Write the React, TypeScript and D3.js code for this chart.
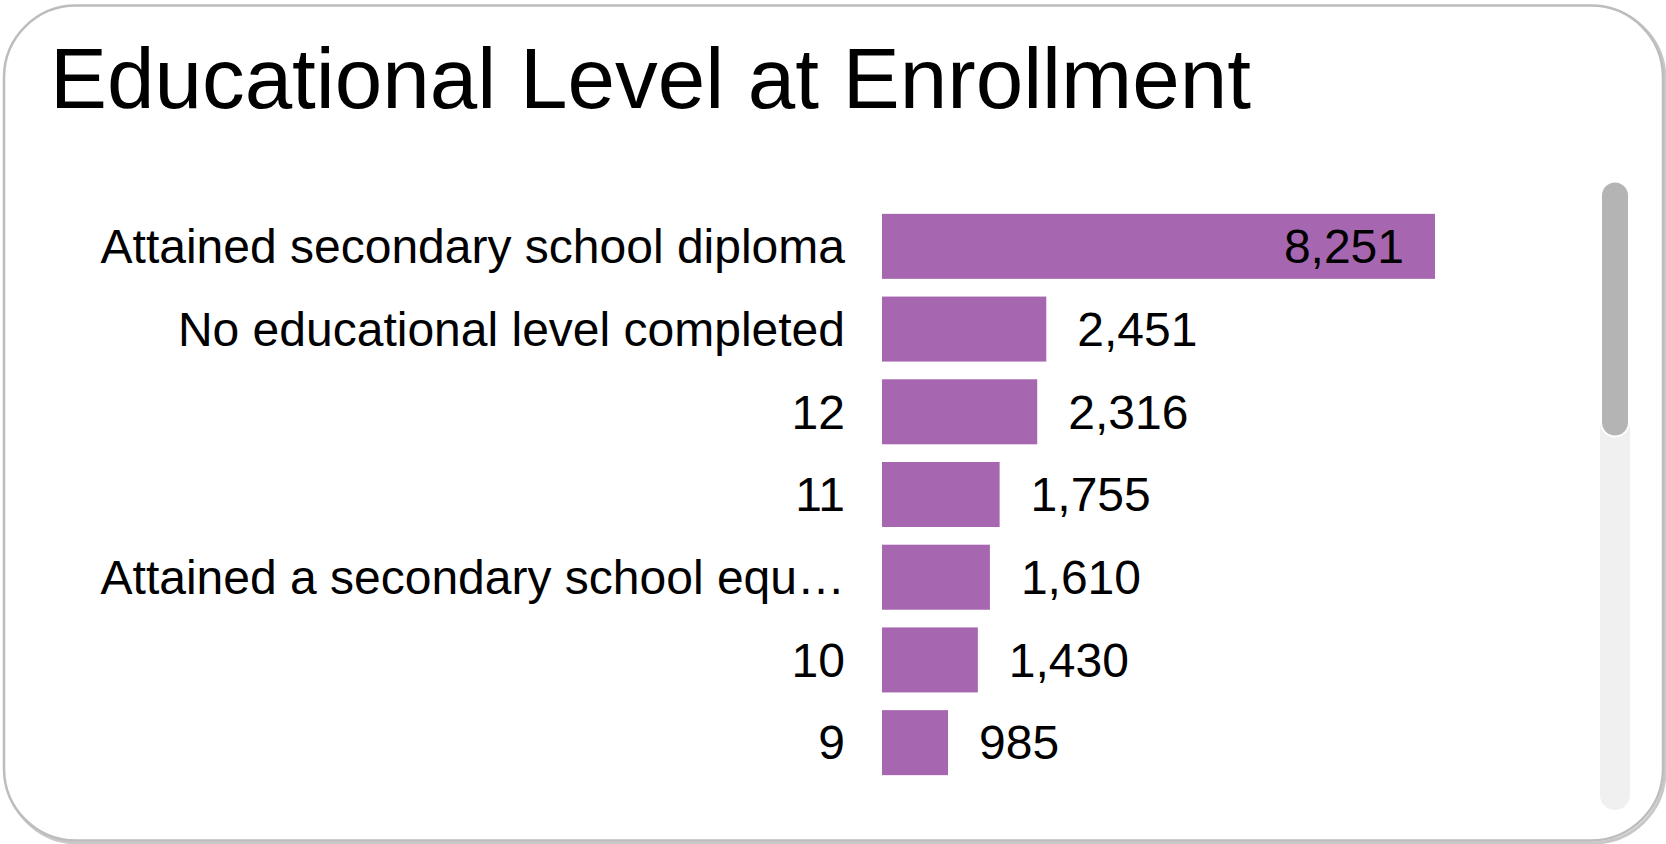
import React from "react";
import * as d3 from "d3";

const TITLE = "Educational Level at Enrollment";
const categories = [
  "Attained secondary school diploma",
  "No educational level completed",
  "12",
  "11",
  "Attained a secondary school equ…",
  "10",
  "9",
];
const values = [8251, 2451, 2316, 1755, 1610, 1430, 985];

const W = 1666;
const H = 844;
const FONT = "'Liberation Sans', Arial, Helvetica, sans-serif";
const BAR_COLOR = "#a667b0";

export default function App() {
  const x = d3.scaleLinear().domain([0, d3.max(values) as number]).range([882, 1435]);
  const y = d3
    .scaleBand<string>()
    .domain(categories)
    .range([205, 784])
    .paddingInner(0.214)
    .paddingOuter(0.107);
  const fmt = d3.format(",");
  const pad = 31;
  const fontSize = 48;
  const xMax = x.range()[1];

  return (
    <div style={{ position: "fixed", left: 0, top: 0, width: W, height: H, background: "#fff" }}>
      <svg width={W} height={H} style={{ display: "block" }}>
        {/* card shadow + border */}
        <rect x={6} y={7} width={1659} height={836} rx={72} ry={72} fill="none" stroke="#c8c8c8" strokeWidth={3} />
        <rect x={4} y={5.5} width={1659} height={835} rx={72} ry={72} fill="#fff" stroke="#bdbdbd" strokeWidth={2.5} />

        <text x={50} y={108} fontFamily={FONT} fontSize={85.4} fill="#000">
          {TITLE}
        </text>

        {categories.map((c, i) => {
          const v = values[i];
          const y0 = y(c) as number;
          const bw = y.bandwidth();
          const cy = y0 + bw / 2;
          const label = fmt(v);
          const approxW = label.length * 0.556 * fontSize;
          const outside = x(v) + pad + approxW <= xMax;
          return (
            <g key={c}>
              <text
                x={845}
                y={cy}
                dy="0.35em"
                textAnchor="end"
                fontFamily={FONT}
                fontSize={fontSize}
                fill="#000"
              >
                {c}
              </text>
              <rect x={x(0)} y={y0} width={x(v) - x(0)} height={bw} fill={BAR_COLOR} />
              <text
                x={outside ? x(v) + pad : x(v) - pad}
                y={cy}
                dy="0.35em"
                textAnchor={outside ? "start" : "end"}
                fontFamily={FONT}
                fontSize={fontSize}
                fill="#000"
              >
                {label}
              </text>
            </g>
          );
        })}

        {/* scrollbar */}
        <rect x={1600} y={182} width={30} height={628} rx={15} ry={15} fill="#f0f0f0" />
        <rect x={1601} y={181.5} width={28} height={255} rx={14} ry={14} fill="#b4b4b4" stroke="#fff" strokeWidth={2} />
      </svg>
    </div>
  );
}
